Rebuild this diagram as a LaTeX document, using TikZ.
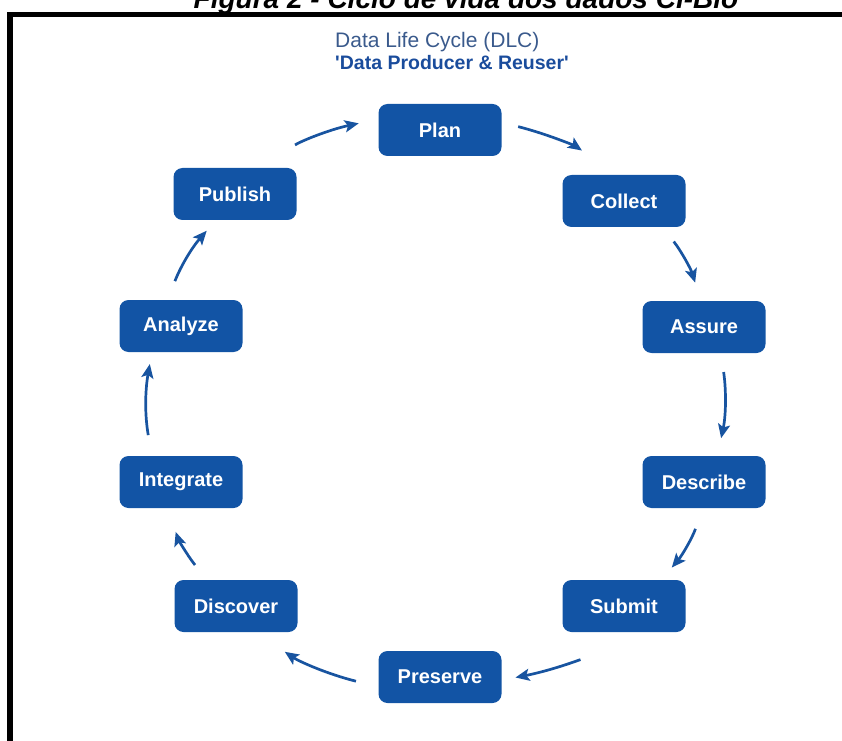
\documentclass[tikz,border=0pt]{standalone}
\usepackage{fontspec}
\setmainfont{Liberation Sans}
\usetikzlibrary{positioning}
\usetikzlibrary{arrows.meta}

\definecolor{dlcblue}{RGB}{18,84,165}
\definecolor{dlcarrow}{RGB}{24,84,160}
\definecolor{dlcslate}{RGB}{58,90,140}
\definecolor{dlcdark}{RGB}{26,76,156}

\begin{document}
\begin{tikzpicture}[x=1pt,y=1pt,
	dlcbox/.style={rectangle,rounded corners=9pt,fill=dlcblue,text=white,minimum width=123pt,minimum height=52pt,inner sep=0pt,font=\fontsize{20}{24}\selectfont\bfseries},
	cyc/.style={draw=dlcarrow,line width=2.7pt,-{Stealth[length=14pt,width=12pt,inset=3pt]},bend left=10},
	hdr/.style={anchor=base west,inner sep=0pt}]
		\useasboundingbox (0,0) rectangle (842,740);
		\node[anchor=base,inner sep=0pt] (caption) at (466,731) {\fontsize{28}{32}\selectfont\bfseries\itshape Figura 2 - Ciclo de vida dos dados CI-Bio};
		\draw[line width=5.5pt] (10,-5) |- (850,725.7);
		\node[hdr,text=dlcslate,font=\fontsize{21}{24}\selectfont] (dlc) at (335,692) {Data Life Cycle (DLC)};
		\node[hdr,text=dlcdark,font=\fontsize{19.5}{24}\selectfont\bfseries] (role) at (335,670) {\textquotesingle Data Producer \& Reuser\textquotesingle};
		\node[dlcbox] (plan) at (440,610) {Plan};
		\node[dlcbox] (collect) at (624,539) {Collect};
		\node[dlcbox] (assure) at (704,413) {Assure};
		\node[dlcbox] (describe) at (704,258) {Describe};
		\node[dlcbox] (submit) at (624,134) {Submit};
		\node[dlcbox] (preserve) at (440,63) {Preserve};
		\node[dlcbox] (discover) at (236,134) {Discover};
		\node[dlcbox] (integrate) at (181,258) {Integrate};
		\node[dlcbox] (analyze) at (181,414) {Analyze};
		\node[dlcbox] (publish) at (235,546) {Publish};
		\draw[cyc,shorten <=17pt,shorten >=43pt] (plan.7) to (collect.104);
		\draw[cyc,shorten <=18pt,shorten >=19pt] (collect.-34) to (assure.97);
		\draw[cyc,shorten <=19pt,shorten >=18pt] (assure.-57) to (describe.63);
		\draw[cyc,shorten <=22pt,shorten >=16pt] (describe.-92) to (submit.35);
		\draw[cyc,shorten <=53pt,shorten >=14pt] (submit.-86) to (preserve.-3);
		\draw[cyc,shorten <=23pt,shorten >=35pt] (preserve.189) to (discover.-53);
		\draw[cyc,shorten <=19pt,shorten >=25pt] (discover.138) to (integrate.243);
		\draw[cyc,shorten <=21pt,shorten >=12pt] (integrate.138) to (analyze.222);
		\draw[cyc,shorten <=20pt,shorten >=14pt] (analyze.117) to (publish.234);
		\draw[cyc,shorten <=43pt,shorten >=20pt] (publish.48) to (plan.170);
	\end{tikzpicture}
\end{document}
